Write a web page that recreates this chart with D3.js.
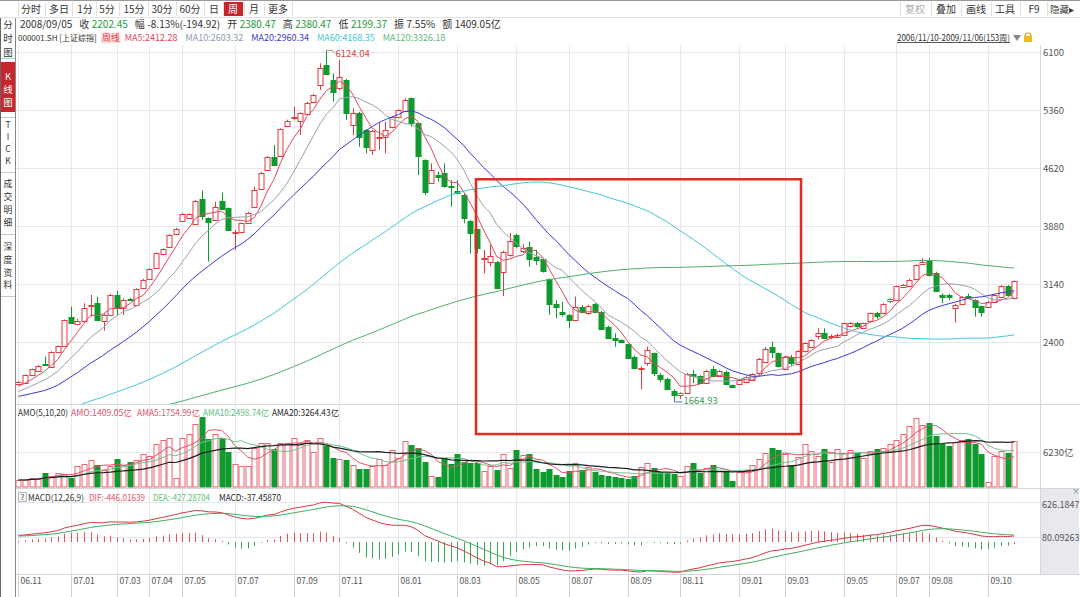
<!DOCTYPE html>
<html><head><meta charset="utf-8">
<script src="https://cdn.jsdelivr.net/npm/d3@7"></script>
<style>
body{margin:0;background:#fff;}
svg{display:block;font-family:"Noto Sans CJK SC","Noto Sans",sans-serif;}
</style></head><body>
<svg id="c" width="1080" height="597"></svg>
<script>
// ---------------- DATA ----------------
const opens=[1868,1885,1983,2030,2125,2090,2281,2357,2727,2634,
2664,2870,2898,2676,2749,3004,2834,2953,2876,3089,
3208,3344,3523,3621,3782,3950,3982,3910,4224,3982,
3960,4203,4110,3800,3803,3927,4131,4364,4598,4768,
4777,5160,5265,5215,5313,5470,5683,5938,5747,5640,
5747,5172,5330,5109,4853,5020,5024,5143,5270,5355,
5512,5194,4726,4428,4534,4556,4390,4334,4279,3952,
3842,3470,3429,3429,3302,3514,3769,3557,3620,3484,
3459,3208,2889,2783,2749,2685,2846,2770,2889,2791,
2590,2451,2430,2380.47,2217,2060,2132,2260,1983,1928,
1780,1720,1750,1996,1970,1885,2055,1975,2026,1855,
1868,1898,1919,2013,2150,2345,2260,2068,2208,2132,
2281,2345,2472,2515,2470,2472,2493,2608,2642,2579,
2664,2770,2770,2919,2940,3102,3119,3204,3408,3438,
3289,3004,3004,2834,2889,2991,2940,2864,2855,2919,
2983,3119,2960];
const highs=[1905,1990,2065,2110,2217,2285,2360,2690,2855,2700,
2898,3004,2983,2770,3020,3059,2961,2970,3090,3210,
3345,3545,3600,3780,3860,4050,4045,4215,4335,3995,
4194,4309,4120,3833,3930,4065,4385,4575,4775,4917,
5130,5240,5406,5335,5470,5570,5960,6124.04,5832,6002,
5760,5385,5340,5120,5110,5202,5215,5280,5375,5512,
5522,5200,4735,4683,4577,4683,4470,4470,4300,3960,
3850,3578,3642,3440,3570,3791,3786,3650,3684,3578,
3470,3215,2940,2919,2760,2983,2876,2880,2900,2800,
2610,2515,2440,2380.47,2230,2090,2345,2270,2010,1950,
1800,1760,2010,2047,1980,2050,2098,2045,2040,1860,
1930,1975,2005,2200,2340,2408,2270,2230,2240,2300,
2400,2440,2578,2578,2500,2510,2650,2660,2660,2650,
2780,2790,2900,2960,3125,3145,3210,3395,3472,3478,
3300,3025,3020,2890,2990,3020,2950,2870,2930,3010,
3130,3130,3190];
const lows=[1860,1875,1975,2020,2102,2080,2270,2350,2634,2620,
2650,2727,2670,2549,2740,2749,2749,2930,2860,3080,
3200,3335,3515,3610,3775,3940,3975,3900,3960,3430,
3950,4090,3820,3578,3790,3920,4120,4350,4590,4650,
4765,5150,5240,5045,5300,5460,5619,5810,5470,5619,
5236,5045,4896,4811,4790,4853,4811,5130,5260,5345,
5151,4534,4279,4420,4450,4370,4130,4290,3918,3536,
3536,3280,3365,3080,2990,3493,3600,3540,3365,3387,
3290,2749,2706,2730,2579,2670,2770,2750,2770,2570,
2440,2345,2390,2199.37,2060,1802,2100,1970,1890,1790,
1664.93,1678,1740,1877,1870,1875,1950,1965,1865,1820,
1860,1880,1910,2000,2140,2200,2080,2050,2100,2120,
2270,2330,2440,2440,2440,2460,2480,2590,2590,2570,
2650,2700,2760,2900,2930,3090,3110,3190,3390,3240,
3040,2898,2940,2651,2880,2950,2727,2727,2840,2900,
2970,2990,2950];
const closes=[1898,1983,2055,2100,2115,2277,2353,2685,2651,2676,
2834,2876,2685,2749,3004,2834,2940,2940,3076,3195,
3336,3536,3587,3769,3846,4040,4037,4200,4011,3927,
4130,4101,3833,3803,3918,4054,4343,4564,4760,4662,
5117,5228,5270,5321,5457,5555,5896,5819,5598,5781,
5321,5321,5024,4888,5100,5024,5109,5270,5364,5491,
5194,4768,4322,4598,4513,4386,4386,4309,3982,3799,
3599,3472,3501,3102,3557,3690,3629,3600,3470,3440,
3300,2889,2847,2760,2685,2855,2783,2864,2785,2579,
2451,2421,2408,2202.45,2081,2075,2302,2000,1928,1800,
1729,1747,1995,1970,1885,2038,1962,2034,1877,1834,
1915,1962,1996,2192,2320,2281,2089,2217,2132,2294,
2387,2430,2515,2451,2480,2494,2642,2642,2608,2642,
2770,2727,2889,2949,3119,3131,3195,3387,3429,3259,
3059,2983,2974,2876,2983,2974,2855,2791,2919,3004,
3119,3004,3180];
// weekly turnover (亿)
const amounts=[1245,1245,1540,1540,2550,1960,2550,2370,1540,3740,
4150,4740,3850,3020,3740,4920,3850,4450,4740,5930,
5510,7590,8300,8660,1660,8780,9370,11270,12450,8480,
9370,8780,6230,4030,3740,3740,7000,7890,7890,6700,
7890,7890,8780,7890,8300,6230,8780,7290,5100,4920,
4740,3910,3140,3140,3740,5040,3910,6580,5220,8180,
7470,7000,4450,1960,1780,5100,4150,5930,4450,4330,
4210,2850,3740,2970,5930,3440,6640,5630,5810,3140,
2700,3200,2100,1712,2800,4200,3000,3500,2712,2200,
1900,1700,1566,1409.05,1900,3600,4300,3300,2600,2500,
2300,1900,3700,4300,2500,3400,4000,2900,2900,1070,
2600,3000,3900,5000,6000,7000,6500,5800,4000,5300,
7600,6400,5500,6800,4500,6700,6000,6500,6100,5200,
6400,6700,7000,7600,8300,9370,10850,12330,11000,11440,
9070,7590,7290,8000,8300,8480,7590,5810,950,5510,
6400,6100,8180];
// weekly closes before 2006/11/10 (oldest first), needed by MA / MACD
const priorCloses=[1460,1440,1400,1400,1420,1430,1400,1420,1410,1400,
1370,1340,1320,1340,1400,1420,1400,1360,1350,1320,
1350,1390,1390,1360,1370,1340,1330,1280,1266,1240,
1240,1260,1190,1240,1290,1310,1300,1260,1230,1180,
1185,1200,1180,1140,1160,1100,1080,1060,1010,1050,
1080,1070,1060,1020,1030,1040,1080,1100,1140,1165,
1150,1160,1170,1180,1160,1155,1135,1140,1120,1110,
1100,1090,1095,1100,1110,1140,1145,1161,1180,1210,
1250,1258,1265,1300,1290,1300,1270,1285,1290,1300,
1340,1360,1400,1440,1580,1590,1640,1670,1580,1620,
1640,1672,1740,1700,1660,1630,1620,1600,1605,1612,
1660,1680,1710,1740,1752,1790,1812,1840,1860];
const tickIndex=[0,8,15,20,25,33,42,49,58,67,76,84,93,101,110,117,126,134,139,148];
const tickLabels=["06.11","07.01","07.03","07.04","07.05","07.07","07.09","07.11","08.01","08.03","08.05","08.07","08.09","08.11","09.01","09.03","09.05","09.07","09.08","09.10"];
const priceTicks=[6100,5360,4620,3880,3140,2400];
const volTick=6230;
const macdTicks=[626.1847,80.09263];
const boxWeeks=[70,119], boxPriceTop=4480, boxVolBottom=9430;

// ---------------- SETUP ----------------
const svg=d3.select("#c");
const N=closes.length;
const RED="#e5393f", GREEN="#0f9a2e";
const PL=16, PR=1040;
const x=d3.scaleBand().domain(d3.range(N)).range([15.2,1017.4]);
const cx=i=>Math.round(x(i)+x.bandwidth()/2)+0.5;
const yP=d3.scaleLinear().domain([1613,6193]).range([404,45]);
const yV=d3.scaleLinear().domain([0,12460]).range([487,417]);
const yM=d3.scaleLinear().domain([-466,626.1847]).range([572,502]);

const allC=priorCloses.concat(closes), P=priorCloses.length;
function ma(n){return closes.map((_,i)=>{const j=i+P;if(j-n+1<0)return null;return d3.mean(allC.slice(j-n+1,j+1));});}
function ema(arr,n){const a=2/(n+1);let e=arr[0];return arr.map((v,i)=>(e=i===0?v:a*v+(1-a)*e));}
const e12=ema(allC,12),e26=ema(allC,26);
const difAll=e12.map((v,i)=>v-e26[i]);
const deaAll=ema(difAll,9);
const dif=difAll.slice(P),dea=deaAll.slice(P),hist=dif.map((d,i)=>2*(d-dea[i]));
function vma(n){return amounts.map((_,i)=>d3.mean(amounts.slice(Math.max(0,i-n+1),i+1)));}

const defs=svg.append("defs");
[["cp",45,404],["cv",405,488],["cm",490,574]].forEach(([id,y0,y1])=>{
  defs.append("clipPath").attr("id",id).append("rect").attr("x",PL).attr("y",y0).attr("width",PR-PL).attr("height",y1-y0);
});

// ---------------- FRAME / GRID ----------------
const grid="#e6e6ee";
svg.append("g").selectAll("line").data(tickIndex).join("line")
  .attr("x1",cx).attr("x2",cx).attr("y1",45).attr("y2",575).attr("stroke",grid);
svg.append("g").selectAll("line").data(priceTicks).join("line")
  .attr("x1",PL).attr("x2",PR).attr("y1",d=>Math.round(yP(d))+0.5).attr("y2",d=>Math.round(yP(d))+0.5).attr("stroke",grid);
svg.append("line").attr("x1",PL).attr("x2",PR).attr("y1",Math.round(yV(volTick))+0.5).attr("y2",Math.round(yV(volTick))+0.5).attr("stroke",grid);
macdTicks.forEach(t=>svg.append("line").attr("x1",PL).attr("x2",PR).attr("y1",Math.round(yM(t))+0.5).attr("y2",Math.round(yM(t))+0.5).attr("stroke",grid));
[404.5,488.5,574.5].forEach(y=>svg.append("line").attr("x1",PL).attr("x2",1080).attr("y1",y).attr("y2",y).attr("stroke","#d6d6dc"));
svg.append("line").attr("x1",PR+0.5).attr("x2",PR+0.5).attr("y1",45).attr("y2",575).attr("stroke","#d6d6dc");
svg.append("rect").attr("x",PR+1).attr("y",489).attr("width",38).attr("height",85).attr("fill","#e8e8ee");
svg.append("text").attr("x",1076).attr("y",494).attr("font-size",8).attr("fill","#777").attr("text-anchor","middle").text("×");

// ---------------- PRICE PANEL ----------------
const gp=svg.append("g").attr("clip-path","url(#cp)");
const bw=5;
closes.forEach((c,i)=>{
  const o=opens[i],up=c>=o,col=up?RED:GREEN,X=cx(i);
  gp.append("line").attr("x1",X).attr("x2",X).attr("y1",yP(highs[i])).attr("y2",yP(lows[i])).attr("stroke",col);
  const yt=yP(Math.max(o,c)),yb=yP(Math.min(o,c));
  const h=Math.max(1,yb-yt);
  gp.append("rect").attr("x",X-bw/2).attr("y",Math.round(yt)+0.5).attr("width",bw).attr("height",Math.max(0.5,Math.round(h)))
    .attr("fill",up?"#fff":GREEN).attr("stroke",col).attr("stroke-width",1);
});
const maDefs=[[5,"#e2465c"],[10,"#9aa0aa"],[20,"#3a3ad2"],[60,"#45c7d4"],[120,"#4fae6a"]];
maDefs.forEach(([n,col])=>{
  const vals=ma(n);
  gp.append("path").datum(vals.map((v,i)=>[i,v]))
    .attr("d",d3.line().defined(d=>d[1]!=null).x(d=>x(d[0])+x.bandwidth()/2).y(d=>yP(d[1])))
    .attr("fill","none").attr("stroke",col).attr("stroke-width",1);
});
const iMax=d3.maxIndex(highs), iMin=d3.minIndex(lows);
svg.append("polyline").attr("points",`${cx(iMax)},${yP(highs[iMax])} ${cx(iMax)+6},${yP(highs[iMax])} ${cx(iMax)+8},${yP(highs[iMax])+3}`).attr("fill","none").attr("stroke","#999");
svg.append("text").attr("x",cx(iMax)+9).attr("y",yP(highs[iMax])+6.5).attr("font-size",9.5).attr("fill","#d8404a").text(highs[iMax].toFixed(2));
svg.append("polyline").attr("points",`${cx(iMin)},${yP(lows[iMin])} ${cx(iMin)},${yP(lows[iMin])+2} ${cx(iMin)+8},${yP(lows[iMin])+2}`).attr("fill","none").attr("stroke","#5a78c8");
svg.append("text").attr("x",cx(iMin)+9).attr("y",yP(lows[iMin])+4.5).attr("font-size",9.5).attr("fill","#3d9a57").text(lows[iMin].toFixed(2));
svg.append("g").selectAll("text").data(priceTicks).join("text")
  .attr("x",PR+3).attr("y",d=>yP(d)+3.5).attr("font-size",9.5).attr("fill","#555").text(d=>d);

// ---------------- VOLUME PANEL ----------------
const gv=svg.append("g").attr("clip-path","url(#cv)");
amounts.forEach((v,i)=>{
  const up=closes[i]>=opens[i],X=cx(i);
  const yt=Math.round(yV(v))+0.5;
  gv.append("rect").attr("x",X-bw/2).attr("y",yt).attr("width",bw).attr("height",Math.max(1,487-yt))
    .attr("fill",up?"#fff":GREEN).attr("stroke",up?"#ec6470":GREEN).attr("stroke-width",1);
});
[[5,"#e0506a"],[10,"#6cc48a"],[20,"#1e1e1e"]].forEach(([n,col])=>{
  gv.append("path").datum(vma(n)).attr("d",d3.line().x((d,i)=>x(i)+x.bandwidth()/2).y(d=>yV(d)))
    .attr("fill","none").attr("stroke",col).attr("stroke-width",n===20?1.2:1);
});
svg.append("text").attr("x",PR+3).attr("y",yV(volTick)+3.5).attr("font-size",9.5).attr("fill","#555").text(volTick+"亿");

// ---------------- MACD PANEL ----------------
const gm=svg.append("g").attr("clip-path","url(#cm)");
hist.forEach((h,i)=>{
  gm.append("line").attr("x1",cx(i)).attr("x2",cx(i)).attr("y1",yM(0)).attr("y2",yM(h))
    .attr("stroke",h>=0?"#e2535a":"#3aa552").attr("stroke-width",1);
});
gm.append("path").datum(dif).attr("d",d3.line().x((d,i)=>x(i)+x.bandwidth()/2).y(d=>yM(d))).attr("fill","none").attr("stroke","#d43a44");
gm.append("path").datum(dea).attr("d",d3.line().x((d,i)=>x(i)+x.bandwidth()/2).y(d=>yM(d))).attr("fill","none").attr("stroke","#43ad5f");
svg.append("text").attr("x",PR+2).attr("y",yM(macdTicks[0])+5.5).attr("font-size",9).attr("fill","#555").text(macdTicks[0]);
svg.append("text").attr("x",PR+2).attr("y",yM(macdTicks[1])+3.5).attr("font-size",9).attr("fill","#555").text(macdTicks[1]);

// ---------------- X AXIS ----------------
const gx=svg.append("g");
tickIndex.forEach((ti,k)=>{
  gx.append("line").attr("x1",cx(ti)).attr("x2",cx(ti)).attr("y1",575).attr("y2",597).attr("stroke","#d0d0d6");
  gx.append("text").attr("x",cx(ti)+2).attr("y",584).attr("font-size",8.5).attr("fill","#555").text(tickLabels[k]);
});

// ---------------- ANNOTATION BOX ----------------
const bx0=cx(boxWeeks[0])-1.5, bx1=cx(boxWeeks[1])+2.5;
svg.append("rect").attr("x",bx0).attr("y",yP(boxPriceTop)).attr("width",bx1-bx0).attr("height",yV(boxVolBottom)-yP(boxPriceTop))
  .attr("fill","none").attr("stroke","#e4291f").attr("stroke-width",2.5);

// ---------------- TEXT ROWS ----------------
function row(x0,y,parts,size){
  let xc=x0;
  parts.forEach(p=>{
    if(p.x!=null) xc=p.x; else xc+=p.gap||0;
    const t=svg.append("text").attr("x",xc).attr("y",y).attr("font-size",p.s||size).attr("fill",p.c).text(p.t);
    if(p.w){t.attr("textLength",p.w).attr("lengthAdjust","spacingAndGlyphs");}
    const w=p.w||t.node().getComputedTextLength();
    if(p.bg){svg.insert("rect","text").attr("x",xc-1).attr("y",y-size+0.5).attr("width",w+2).attr("height",size+2).attr("fill",p.bg);}
    xc+=w;
  });
  return xc;
}
svg.append("line").attr("x1",0).attr("x2",1080).attr("y1",0.5).attr("y2",0.5).attr("stroke","#999");
svg.append("line").attr("x1",0).attr("x2",1080).attr("y1",17.5).attr("y2",17.5).attr("stroke","#e2e2e2");
const btns=[["分时",31],["多日",59],["1分",85],["5分",107],["15分",134],["30分",162],["60分",190],["日",214],["周",233],["月",254],["更多",278]];
[18,45,72,96,119,148,176,204,223,244,264,292].forEach(s=>svg.append("line").attr("x1",s+0.5).attr("x2",s+0.5).attr("y1",2).attr("y2",16).attr("stroke","#e0e0e0"));
svg.append("rect").attr("x",224).attr("y",2).attr("width",19).attr("height",14).attr("fill","#c8262c");
btns.forEach(([t,c])=>svg.append("text").attr("x",c).attr("y",13).attr("text-anchor","middle").attr("font-size",10)
  .attr("fill",t==="周"?"#fff":"#333").text(t));
const rbtns=[["复权",915,"#aaa"],["叠加",946,"#333"],["画线",976,"#333"],["工具",1005,"#333"],["F9",1034,"#333"],["隐藏▸",1062,"#333"]];
[900,931,961,991,1020,1047].forEach(s=>svg.append("line").attr("x1",s+0.5).attr("x2",s+0.5).attr("y1",2).attr("y2",16).attr("stroke","#e0e0e0"));
rbtns.forEach(([t,c,col])=>svg.append("text").attr("x",c).attr("y",13).attr("text-anchor","middle").attr("font-size",t==="隐藏▸"?9.5:10).attr("fill",col).text(t));

const G2="#1d9a3c",DK="#333";
row(20,28,[{t:"2008/09/05",c:DK},{t:"收",c:DK,gap:7},{t:"2202.45",c:G2,gap:2.5},{t:"幅",c:DK,gap:7},{t:"-8.13%(-194.92)",c:DK,gap:2.5},
  {t:"开",c:DK,gap:7},{t:"2380.47",c:G2,gap:2.5},{t:"高",c:DK,gap:7},{t:"2380.47",c:G2,gap:2.5},{t:"低",c:DK,gap:7},{t:"2199.37",c:G2,gap:2.5},
  {t:"振",c:DK,gap:7},{t:"7.55%",c:DK,gap:2.5},{t:"额",c:DK,gap:7},{t:"1409.05亿",c:DK,gap:2.5}],10);
row(18,41,[{t:"000001.SH [上证综指]",c:DK,s:8},{t:"周线",c:"#e23a3a",bg:"#fde3e3",gap:5},{t:"MA5:2412.28",c:"#e2465c",gap:5},
  {t:"MA10:2603.32",c:"#8a9cb2",gap:8},{t:"MA20:2960.34",c:"#3a3ad2",gap:8},{t:"MA60:4168.35",c:"#45c7d4",gap:8},{t:"MA120:3326.18",c:"#5fbd7c",gap:8}],9);
svg.append("text").attr("x",897).attr("y",41).attr("font-size",8.5).attr("fill",DK)
  .attr("textLength",113).attr("lengthAdjust","spacingAndGlyphs").text("2006/11/10-2009/11/06(153周)");
svg.append("line").attr("x1",897).attr("x2",1010).attr("y1",42.5).attr("y2",42.5).attr("stroke","#555");
svg.append("path").attr("d","M1013,35 L1021,35 L1017,41 Z").attr("fill","#888");
svg.append("path").attr("d","M1025,36 a3,3 0 0 1 6,0").attr("fill","none").attr("stroke","#d9a520").attr("stroke-width",1.2);
svg.append("rect").attr("x",1024).attr("y",36).attr("width",8).attr("height",6).attr("fill","#f2b824");
row(18,416,[{t:"AMO(5,10,20)",c:DK,w:50},{t:"AMO:1409.05亿",c:"#e0506a",x:71,w:61},{t:"AMA5:1754.99亿",c:"#e0506a",x:137,w:63},
  {t:"AMA10:2498.74亿",c:"#5cbf7a",x:203,w:66},{t:"AMA20:3264.43亿",c:"#1e1e1e",x:272,w:67}],8.5);
svg.append("rect").attr("x",18.5).attr("y",492.5).attr("width",8).attr("height",9).attr("fill","#f4f4f4").attr("stroke","#bbb");
svg.append("text").attr("x",22.5).attr("y",500).attr("font-size",8).attr("text-anchor","middle").attr("fill","#555").text("?");
row(28,501,[{t:"MACD(12,26,9)",c:DK,w:56},{t:"DIF:-446.01639",c:"#e0506a",x:89,w:56},{t:"DEA:-427.28704",c:"#5cbf7a",x:153,w:57},{t:"MACD:-37.45870",c:"#1e1e1e",x:219,w:62}],8.5);

// ---------------- SIDEBAR ----------------
svg.append("line").attr("x1",0.5).attr("x2",0.5).attr("y1",18).attr("y2",597).attr("stroke","#666");
svg.append("line").attr("x1",15.5).attr("x2",15.5).attr("y1",18).attr("y2",597).attr("stroke","#888");
svg.append("rect").attr("x",1).attr("y",62).attr("width",14).attr("height",50).attr("fill","#c8262c");
[58,117,172,234,296].forEach(y=>svg.append("line").attr("x1",1).attr("x2",15).attr("y1",y+0.5).attr("y2",y+0.5).attr("stroke","#c8c8c8"));
const side=[["分",24,"#333",9.5],["时",38,"#333",9.5],["图",52,"#333",9.5],["K",76,"#fff",9.5],["线",89,"#fff",9.5],["图",102,"#fff",9.5],
  ["T",125,"#333",8.5],["I",137,"#333",8.5],["C",149,"#333",8.5],["K",161,"#333",8.5],["成",184,"#333",8.8],["交",197,"#333",8.8],["明",210,"#333",8.8],["细",223,"#333",8.8],
  ["深",247,"#333",8.8],["度",260,"#333",8.8],["资",272.5,"#333",8.8],["料",285,"#333",8.8]];
side.forEach(([t,y,c,s])=>svg.append("text").attr("x",8).attr("y",y+s*0.38).attr("font-size",s).attr("text-anchor","middle").attr("fill",c).text(t));
</script>
</body></html>
